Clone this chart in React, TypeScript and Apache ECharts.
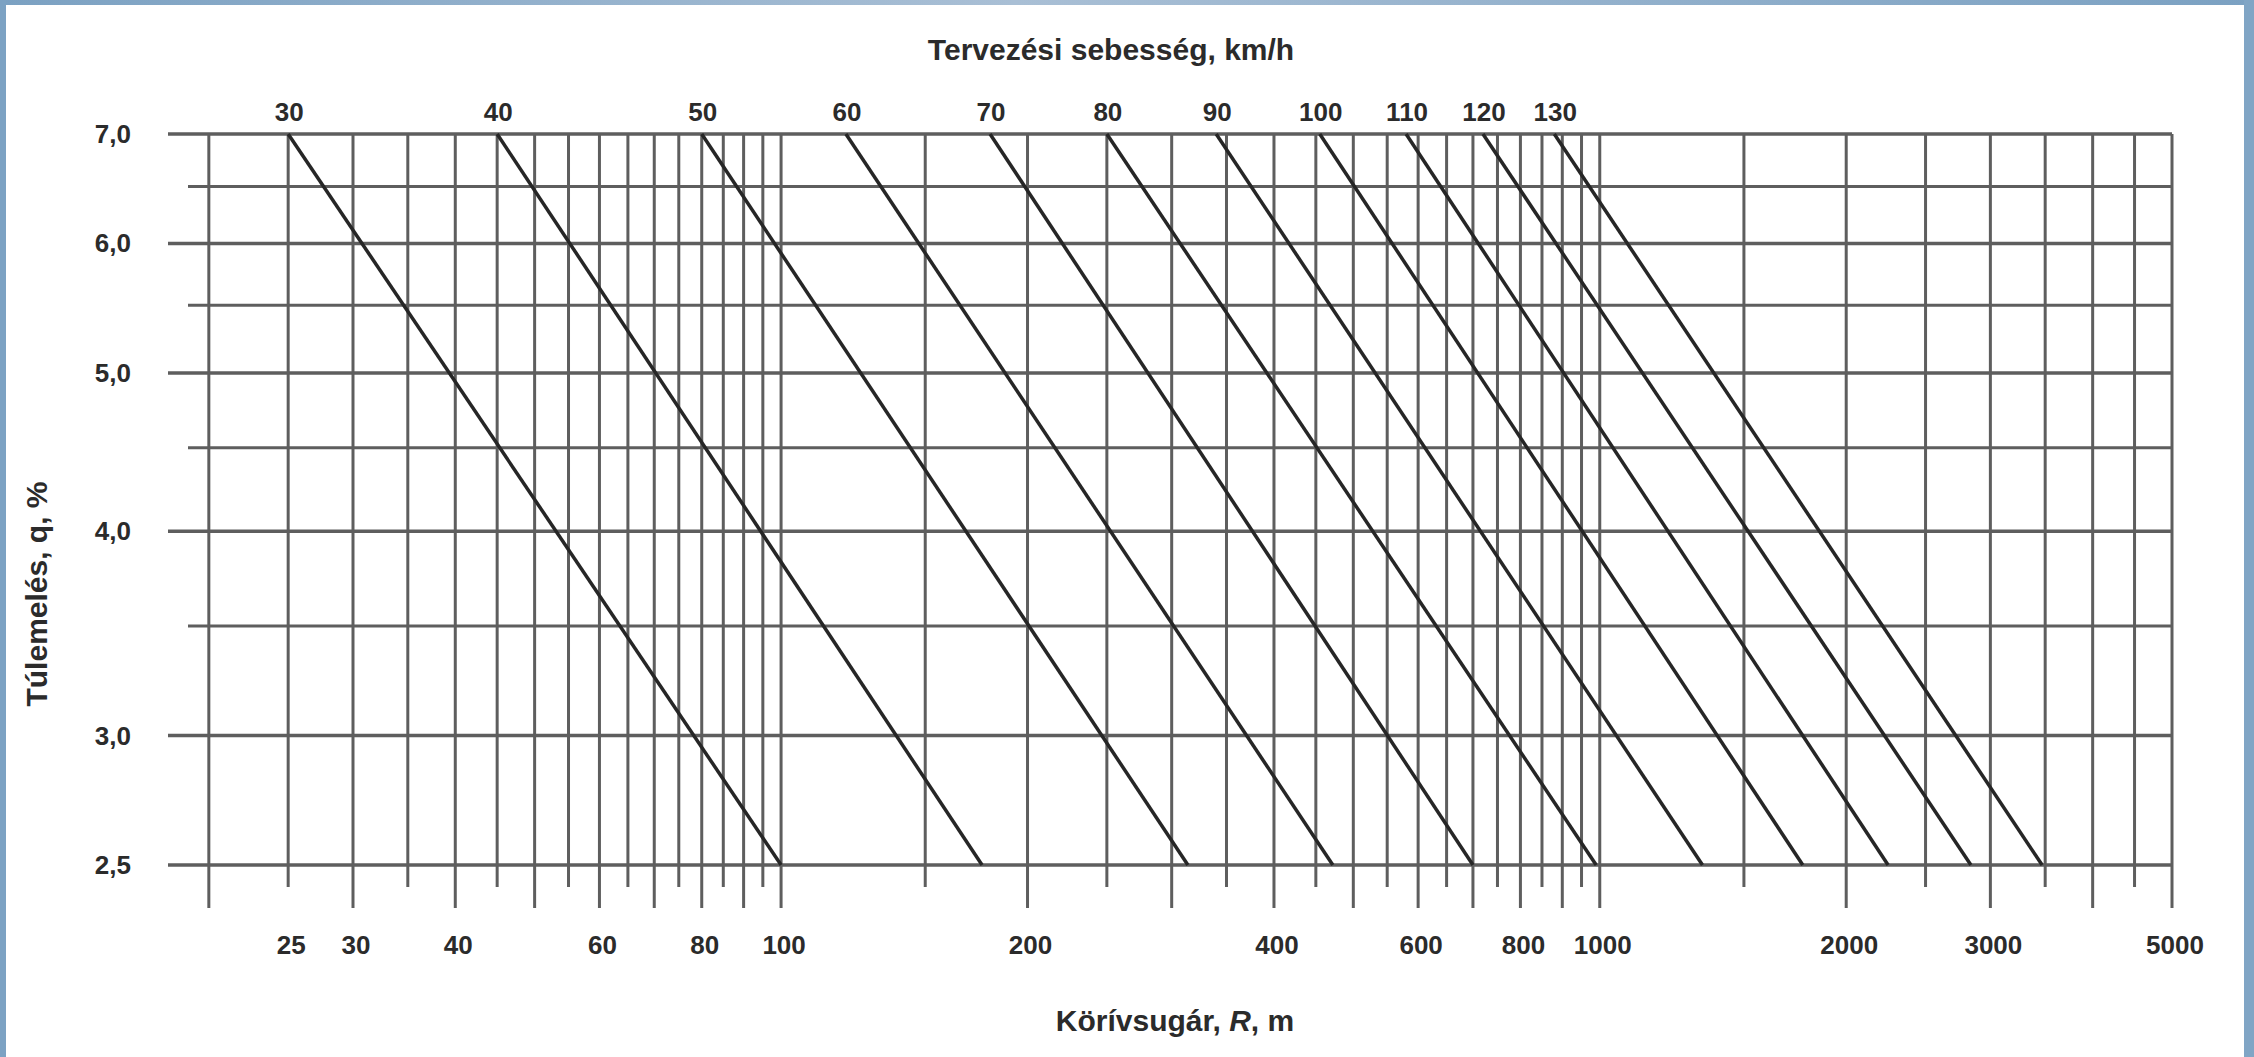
import React, { useEffect, useRef } from "react";
import * as echarts from "echarts";

// Design speeds (km/h) and the curve radius where each line meets the top (7,0 %) and bottom (2,5 %) of the chart
const speeds = [30, 40, 50, 60, 70, 80, 90, 100, 110, 120, 130];
const radiusAtTop = [25, 45, 80, 120, 180, 250, 340, 455, 580, 720, 880];
const radiusAtBottom = [100, 176, 314, 472, 700, 990, 1335, 1770, 2250, 2840, 3470];
const superTop = 7.0;
const superBottom = 2.5;

// Axis labels
const xTickLabels = [25, 30, 40, 60, 80, 100, 200, 400, 600, 800, 1000, 2000, 3000, 5000];
const yTickValues = [7, 6, 5, 4, 3, 2.5];
const yTickLabels = ["7,0", "6,0", "5,0", "4,0", "3,0", "2,5"];
const yMinorLines = [6.5, 5.5, 4.5, 3.5];

// Vertical grid lines (long ones extend further below the chart)
const xGridLong = [20, 30, 40, 50, 60, 70, 80, 90, 100, 200, 300, 400, 500, 600, 700, 800, 900, 1000, 2000, 3000, 4000, 5000];
const xGridShort = [25, 35, 45, 55, 65, 75, 85, 95, 150, 250, 350, 450, 550, 650, 750, 850, 950, 1500, 2500, 3500, 4500];

const topTitle = "Tervezési sebesség, km/h";
const xTitle = "Körívsugár, {i|R}, m";
const yTitle = "Túlemelés, q, %";

const X_MIN = 17.83;
const X_MAX = 5000;
const Y_MIN = 2.353;
const Y_MAX = 7;

const FONT = "'Liberation Sans', Arial, sans-serif";
const TXT = "#2b2b2b";
const GRID = "#5e5e5e";

export default function App() {
  const ref = useRef<HTMLDivElement>(null);
  useEffect(() => {
    if (!ref.current) return;
    const chart = echarts.init(ref.current, undefined, { renderer: "svg" });

    const vLine = (ext: number, width: number) => (params: any, api: any) => {
      const x = api.value(0);
      const top = api.coord([x, Y_MAX]);
      const base = api.coord([x, superBottom]);
      return {
        type: "line",
        shape: { x1: top[0], y1: top[1], x2: top[0], y2: base[1] + ext },
        style: { stroke: GRID, lineWidth: width },
      };
    };
    const hLine = (startOffset: number, width: number) => (params: any, api: any) => {
      const v = api.value(1);
      const right = api.coord([X_MAX, v]);
      return {
        type: "line",
        shape: { x1: params.coordSys.x + startOffset, y1: right[1], x2: right[0], y2: right[1] },
        style: { stroke: GRID, lineWidth: width },
      };
    };
    const textStyle = (text: string, align: string) => ({
      text,
      fontSize: 26,
      fontWeight: "bold",
      fontFamily: FONT,
      fill: TXT,
      align,
      verticalAlign: "middle",
    });

    const series: any[] = [
      { type: "custom", name: "vLong", data: xGridLong.map((v) => [v, Y_MAX]), renderItem: vLine(43, 3), silent: true, z: 1 },
      { type: "custom", name: "vShort", data: xGridShort.map((v) => [v, Y_MAX]), renderItem: vLine(22, 3), silent: true, z: 1 },
      { type: "custom", name: "hMain", data: yTickValues.map((v) => [X_MAX, v]), renderItem: hLine(0, 3.5), silent: true, z: 1 },
      { type: "custom", name: "hMinor", data: yMinorLines.map((v) => [X_MAX, v]), renderItem: hLine(20, 3), silent: true, z: 1 },
      ...speeds.map((s, i) => ({
        type: "line",
        name: String(s),
        data: [
          [radiusAtTop[i], superTop],
          [radiusAtBottom[i], superBottom],
        ],
        symbol: "none",
        lineStyle: { color: "#262626", width: 3.5 },
        silent: true,
        z: 3,
      })),
      {
        type: "custom",
        name: "speedLabels",
        data: speeds.map((s, i) => [radiusAtTop[i], superTop, s]),
        renderItem: (params: any, api: any) => {
          const p = api.coord([api.value(0), api.value(1)]);
          return { type: "text", x: p[0] + 1, y: p[1] - 22, style: textStyle(String(api.value(2)), "center") };
        },
        silent: true,
        z: 4,
      },
      {
        type: "custom",
        name: "xLabels",
        data: xTickLabels.map((v) => [v, superBottom]),
        renderItem: (params: any, api: any) => {
          const p = api.coord([api.value(0), api.value(1)]);
          return { type: "text", x: p[0] + 3, y: p[1] + 80, style: textStyle(String(api.value(0)), "center") };
        },
        silent: true,
        z: 4,
      },
      {
        type: "custom",
        name: "yLabels",
        data: yTickValues.map((v, i) => [X_MIN, v, i]),
        renderItem: (params: any, api: any) => {
          const p = api.coord([api.value(0), api.value(1)]);
          return { type: "text", x: p[0] - 37, y: p[1], style: textStyle(yTickLabels[api.value(2)], "right") };
        },
        silent: true,
        z: 4,
      },
    ];

    const frameGrad = () =>
      new echarts.graphic.LinearGradient(0, 0, 1, 0, [
        { offset: 0, color: "#7ba1c2" },
        { offset: 0.45, color: "#a9bfd5" },
        { offset: 1, color: "#7ba1c2" },
      ]);

    chart.setOption({
      animation: false,
      backgroundColor: "#ffffff",
      grid: { left: 168, top: 134, width: 2004, height: 774, containLabel: false },
      xAxis: { type: "log", logBase: 10, min: X_MIN, max: X_MAX, show: false },
      yAxis: { type: "log", logBase: 10, min: Y_MIN, max: Y_MAX, show: false },
      series,
      graphic: [
        { type: "rect", left: 0, top: 0, shape: { width: 2254, height: 5 }, style: { fill: frameGrad() }, silent: true },
        { type: "rect", left: 0, top: 0, shape: { width: 6, height: 1057 }, style: { fill: "#7ca2c3" }, silent: true },
        { type: "rect", left: 2244, top: 0, shape: { width: 10, height: 1057 }, style: { fill: "#80a5c5" }, silent: true },
        {
          type: "text",
          x: 1111,
          y: 49,
          style: { text: topTitle, fontSize: 30, fontWeight: "bold", fontFamily: FONT, fill: TXT, align: "center", verticalAlign: "middle" },
          silent: true,
        },
        {
          type: "text",
          x: 1175,
          y: 1020,
          style: {
            text: xTitle,
            fontSize: 30,
            fontWeight: "bold",
            fontFamily: FONT,
            fill: TXT,
            align: "center",
            verticalAlign: "middle",
            rich: { i: { fontSize: 30, fontWeight: "bold", fontStyle: "italic", fontFamily: FONT, fill: TXT } },
          },
          silent: true,
        },
        {
          type: "text",
          x: 36,
          y: 594,
          rotation: Math.PI / 2,
          style: { text: yTitle, fontSize: 30, fontWeight: "bold", fontFamily: FONT, fill: TXT, align: "center", verticalAlign: "middle" },
          silent: true,
        },
      ],
    });
    return () => chart.dispose();
  }, []);

  return <div ref={ref} style={{ position: "fixed", left: 0, top: 0, width: "2254px", height: "1057px" }} />;
}
